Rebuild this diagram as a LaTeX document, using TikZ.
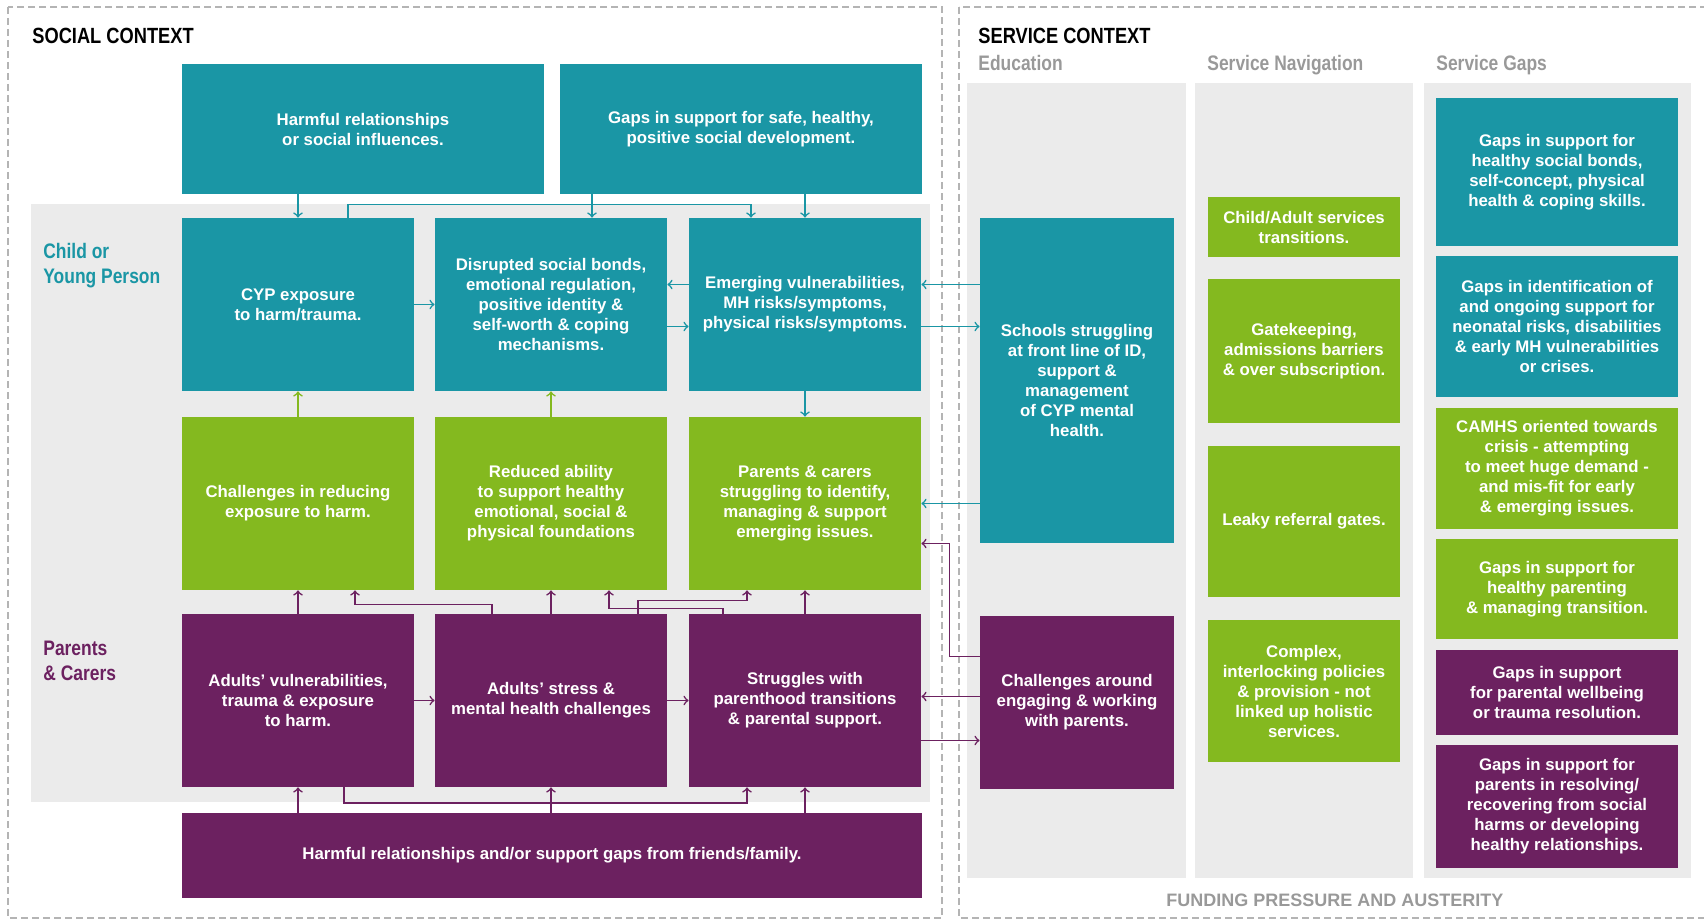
\documentclass[tikz,border=0pt]{standalone}
\usepackage{fontspec}
\setmainfont{Liberation Sans}
\newfontfamily\condfont{Liberation Sans}[FakeStretch=0.83]

\definecolor{cteal}{HTML}{1A96A5}
\definecolor{cgreen}{HTML}{84B91F}
\definecolor{cpurple}{HTML}{6C2160}
\definecolor{cbg}{HTML}{EBEBEB}
\definecolor{cgreytxt}{HTML}{999999}
\definecolor{cdash}{HTML}{B4B4B4}

\tikzset{
  box/.style={rectangle, inner sep=0pt, align=center, text=white, font=\bfseries\fontsize{8.4}{10}\selectfont},
  tbox/.style={box, fill=cteal},
  gbox/.style={box, fill=cgreen},
  pbox/.style={box, fill=cpurple},
  cell/.style={minimum width=116pt, minimum height=86.5pt},
  tarr/.style={->, draw=cteal, line width=0.8pt},
  garr/.style={->, draw=cgreen, line width=0.8pt},
  parr/.style={->, draw=cpurple, line width=0.8pt},
  heading/.style={anchor=base west, inner sep=0pt, font=\condfont\bfseries\fontsize{11}{13}\selectfont},
  colhead/.style={heading, text=cgreytxt, font=\condfont\bfseries\fontsize{10.5}{12}\selectfont},
  rowlab/.style={anchor=west, inner sep=0pt, align=left, font=\condfont\bfseries\fontsize{10.5}{12.5}\selectfont},
  border/.style={draw=cdash, line width=0.7pt, dash pattern=on 3.5pt off 2pt}
}

\begin{document}
\begin{tikzpicture}[x=0.5pt, y=-0.5pt]
    \useasboundingbox (0,0) rectangle (1704,920);
    \draw[border] (8,7) rectangle (942,918);
    \draw[border] (959,7) rectangle (1720,918);
    \fill[cbg] (31,204) rectangle (930,802);
    \fill[cbg] (967,83) rectangle (1186,878);
    \fill[cbg] (1195,83) rectangle (1413,878);
    \fill[cbg] (1424,83) rectangle (1691,878);

    \node[heading] (social) at (32,44) {SOCIAL CONTEXT};
    \node[heading] (service) at (978,44) {SERVICE CONTEXT};
    \node[colhead] (edu) at (978,71) {Education};
    \node[colhead] (nav) at (1207,71) {Service Navigation};
    \node[colhead] (gaps) at (1436,71) {Service Gaps};
    \node[rowlab, text=cteal] (cyp) at (43,266) {Child or\\Young Person};
    \node[rowlab, text=cpurple] (pc) at (43,661) {Parents\\\& Carers};
    \node[inner sep=0pt, text=cgreytxt, font=\bfseries\fontsize{9}{11}\selectfont] (funding) at (1335,900) {FUNDING PRESSURE AND AUSTERITY};

    \node[tbox, minimum width=181pt, minimum height=65pt] (A1) at (363,129) {Harmful relationships\\or social influences.};
    \node[tbox, minimum width=181pt, minimum height=65pt] (A2) at (741,129) {Gaps in support for safe, healthy,\\positive social development.};

    \node[tbox, cell] (B1) at (298,304.5) {CYP exposure\\to harm/trauma.};
    \node[tbox, cell] (B2) at (551,304.5) {Disrupted social bonds,\\emotional regulation,\\positive identity \&\\self-worth \& coping\\mechanisms.};
    \node[tbox, cell] (B3) at (805,304.5) {Emerging vulnerabilities,\\MH risks/symptoms,\\physical risks/symptoms.};

    \node[gbox, cell] (C1) at (298,503.5) {Challenges in reducing\\exposure to harm.};
    \node[gbox, cell] (C2) at (551,503.5) {Reduced ability\\to support healthy\\emotional, social \&\\physical foundations};
    \node[gbox, cell] (C3) at (805,503.5) {Parents \& carers\\struggling to identify,\\managing \& support\\emerging issues.};

    \node[pbox, cell] (D1) at (298,700.5) {Adults' vulnerabilities,\\trauma \& exposure\\to harm.};
    \node[pbox, cell] (D2) at (551,700.5) {Adults' stress \&\\mental health challenges};
    \node[pbox, cell] (D3) at (805,700.5) {Struggles with\\parenthood transitions\\\& parental support.};

    \node[pbox, minimum width=370pt, minimum height=42.5pt] (E) at (552,855.5) {Harmful relationships and/or support gaps from friends/family.};

    \node[tbox, minimum width=97pt, minimum height=162.5pt] (Sch) at (1077,380.5) {Schools struggling\\at front line of ID,\\support \&\\management\\of CYP mental\\health.};
    \node[pbox, minimum width=97pt, minimum height=86.5pt] (Par) at (1077,702.5) {Challenges around\\engaging \& working\\with parents.};

    \node[gbox, minimum width=96pt, minimum height=30pt] (N1) at (1304,227) {Child/Adult services\\transitions.};
    \node[gbox, minimum width=96pt, minimum height=72pt] (N2) at (1304,351) {Gatekeeping,\\admissions barriers\\\& over subscription.};
    \node[gbox, minimum width=96pt, minimum height=75.5pt] (N3) at (1304,521.5) {Leaky referral gates.};
    \node[gbox, minimum width=96pt, minimum height=71pt] (N4) at (1304,691) {Complex,\\interlocking policies\\\& provision - not\\linked up holistic\\services.};

    \node[tbox, minimum width=121pt, minimum height=74pt] (G1) at (1557,172) {Gaps in support for\\healthy social bonds,\\self-concept, physical\\health \& coping skills.};
    \node[tbox, minimum width=121pt, minimum height=70.5pt] (G2) at (1557,326.5) {Gaps in identification of\\and ongoing support for\\neonatal risks, disabilities\\\& early MH vulnerabilities\\or crises.};
    \node[gbox, minimum width=121pt, minimum height=60.5pt] (G3) at (1557,468.5) {CAMHS oriented towards\\crisis - attempting\\to meet huge demand -\\and mis-fit for early\\\& emerging issues.};
    \node[gbox, minimum width=121pt, minimum height=50pt] (G4) at (1557,589) {Gaps in support for\\healthy parenting\\\& managing transition.};
    \node[pbox, minimum width=121pt, minimum height=42.5pt] (G5) at (1557,692.5) {Gaps in support\\for parental wellbeing\\or trauma resolution.};
    \node[pbox, minimum width=121pt, minimum height=61.5pt] (G6) at (1557,806.5) {Gaps in support for\\parents in resolving/\\recovering from social\\harms or developing\\healthy relationships.};

    \draw[tarr] (A1.south -| B1.north) -- (B1.north);
    \draw[tarr] ([xshift=20.5pt]B2.north |- A2.south) -- ([xshift=20.5pt]B2.north);
    \draw[tarr] (A2.south -| B3.north) -- (B3.north);
    \draw[tarr] ([xshift=25pt]B1.north) -- ++(0,-13) -| ([xshift=-27pt]B3.north);
    \draw[tarr] (B1.east) -- (B2.west);
    \draw[tarr] ([yshift=10pt]B3.west) -- ([yshift=10pt]B2.east);
    \draw[tarr] ([yshift=-11pt]B2.east) -- ([yshift=-11pt]B3.west);
    \draw[tarr] ([yshift=10pt]Sch.west |- B3.east) -- ([yshift=10pt]B3.east);
    \draw[tarr] ([yshift=-11pt]B3.east) -- ([yshift=-11pt]Sch.west |- B3.east);
    \draw[tarr] (B3) -- (C3);
    \draw[tarr] (Sch.west |- C3.east) -- (C3.east);

    \draw[garr] (C1) -- (B1);
    \draw[garr] (C2) -- (B2);

    \draw[parr] (D1) -- (C1);
    \draw[parr] ([xshift=-29.5pt]D2.north) -- ++(0,-9) -| ([xshift=28.5pt]C1.south);
    \draw[parr] (D2) -- (C2);
    \draw[parr] ([xshift=-41pt]D3.north) -- ++(0,-5) -| ([xshift=29pt]C2.south);
    \draw[parr] ([xshift=43.5pt]D2.north) -- ++(0,-13) -| ([xshift=-29pt]C3.south);
    \draw[parr] (D3) -- (C3);
    \draw[parr] (D1.east) -- (D2.west);
    \draw[parr] (D2.east) -- (D3.west);
    \draw[parr] ([yshift=3pt]Par.west) -- ([yshift=3pt]Par.west -| D3.east);
    \draw[parr] ([yshift=-19pt]Par.west -| D3.east) -- ([yshift=-19pt]Par.west);
    \draw[parr] ([yshift=23pt]Par.west) -- ++(-30,0) |- ([yshift=-20pt]C3.east);
    \draw[parr] (E.north -| D1.south) -- (D1.south);
    \draw[parr] (E.north -| D2.south) -- (D2.south);
    \draw[parr] (E.north -| D3.south) -- (D3.south);
    \draw[parr] ([xshift=23pt]D1.south) -- ++(0,15.5) -| ([xshift=-29pt]D3.south);
\end{tikzpicture}
\end{document}
